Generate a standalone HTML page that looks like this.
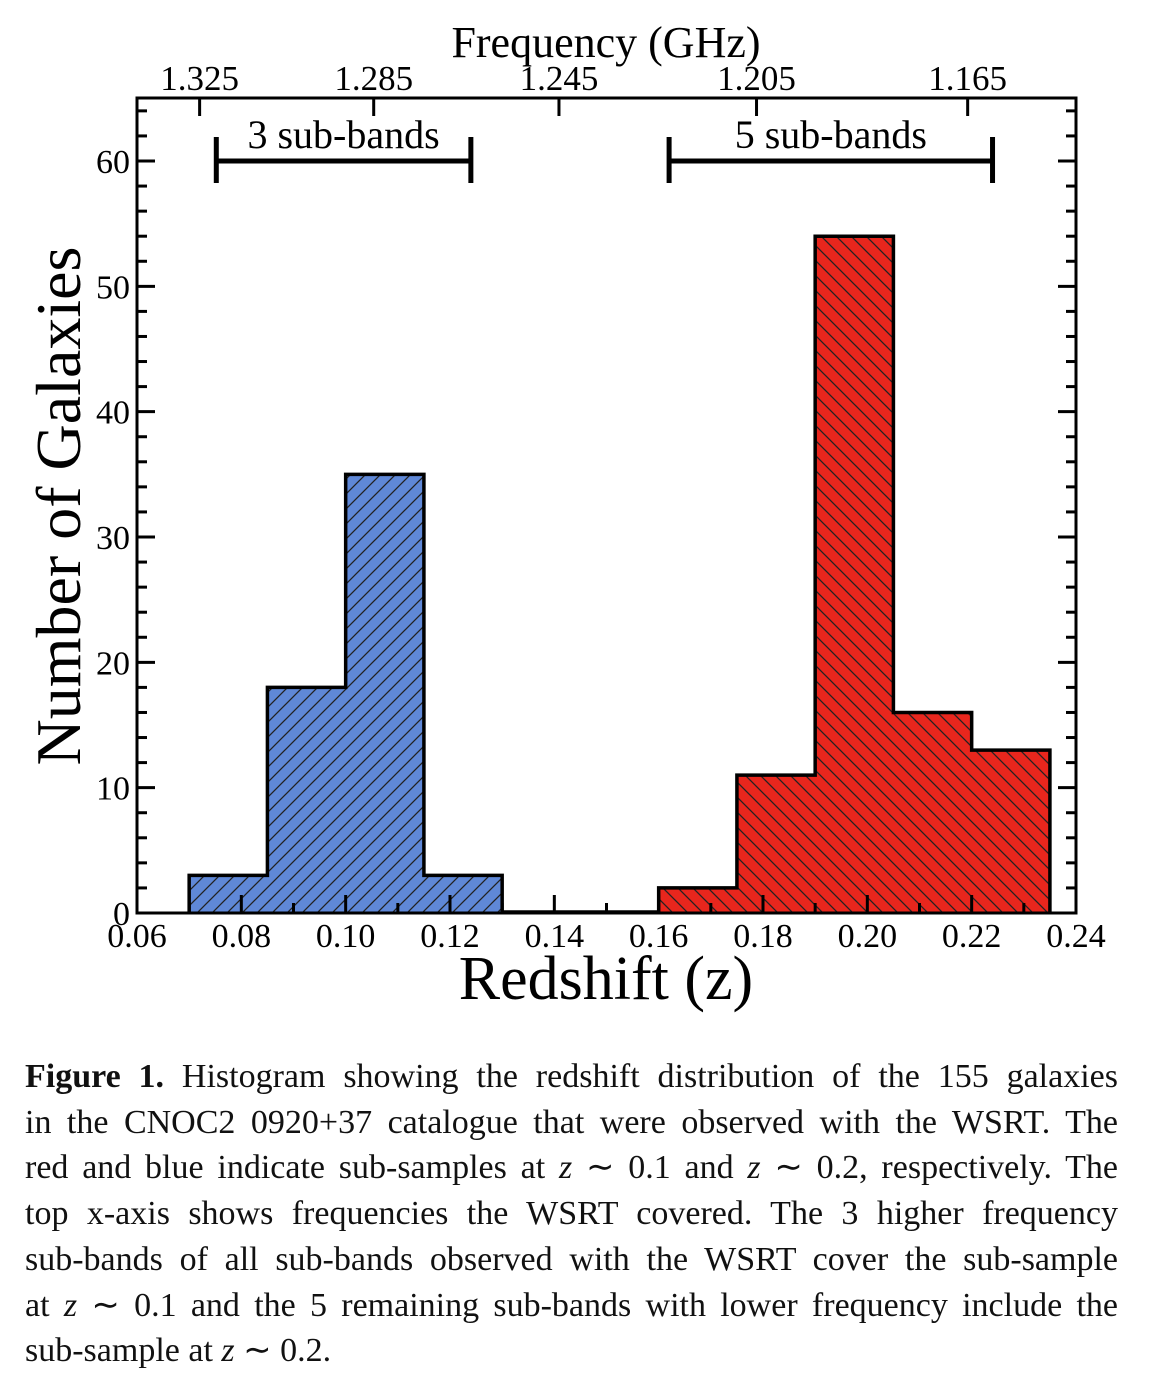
<!DOCTYPE html>
<html><head><meta charset="utf-8"><style>
body{margin:0;background:#fff;width:1158px;height:1388px;overflow:hidden}
svg text{font-family:"Liberation Serif","DejaVu Serif",serif;fill:#000}
.cap{position:absolute;left:25px;top:1054px;width:1093px;font-family:"Liberation Serif",serif;font-size:34px;line-height:45.7px;color:#111}
.cap div{text-align:justify;text-align-last:justify;white-space:nowrap}
.cap div.last{text-align-last:left}
</style></head><body>
<svg width="1158" height="1020" style="position:absolute;left:0;top:0">
<defs>
<pattern id="hb" patternUnits="userSpaceOnUse" width="15" height="15"><rect width="15" height="15" fill="#5f88d7"/><path d="M-2,17 L17,-2 M-2,2 L2,-2 M13,17 L17,13" stroke="#222" stroke-width="1.3"/></pattern>
<pattern id="hr" patternUnits="userSpaceOnUse" width="15" height="15"><rect width="15" height="15" fill="#e8261d"/><path d="M-2,-2 L17,17 M-2,13 L2,17 M13,-2 L17,2" stroke="#222" stroke-width="1.3"/></pattern>
</defs>
<g id="g"></g>
</svg>
<div class="cap">
<div><b>Figure 1.</b> Histogram showing the redshift distribution of the 155 galaxies</div>
<div>in the CNOC2 0920+37 catalogue that were observed with the WSRT. The</div>
<div>red and blue indicate sub-samples at <i>z</i> ∼ 0.1 and <i>z</i> ∼ 0.2, respectively. The</div>
<div>top x-axis shows frequencies the WSRT covered. The 3 higher frequency</div>
<div>sub-bands of all sub-bands observed with the WSRT cover the sub-sample</div>
<div>at <i>z</i> ∼ 0.1 and the 5 remaining sub-bands with lower frequency include the</div>
<div class="last">sub-sample at <i>z</i> ∼ 0.2.</div>
</div>
<script>
const blueEdges=[0.07,0.085,0.10,0.115,0.13];
const blueCounts=[3,18,35,3];
const redEdges=[0.16,0.175,0.19,0.205,0.22,0.235];
const redCounts=[2,11,54,16,13];
const xTicks=[0.06,0.08,0.10,0.12,0.14,0.16,0.18,0.20,0.22,0.24];
const yTicks=[0,10,20,30,40,50,60];
const freqTicks=[1.325,1.285,1.245,1.205,1.165];
const band3=[0.0752,0.124];
const band5=[0.162,0.224];
const L=137,R=1076,T=98,B=913;
const X=z=>L+(z-0.06)/(0.18)*(R-L);
const Y=v=>B-v/60*(B-161);
const F=f=>X(1.42040575/f-1);
const g=document.getElementById('g');const NS='http://www.w3.org/2000/svg';
function mk(t,a,txt){const e=document.createElementNS(NS,t);for(const k in a)e.setAttribute(k,a[k]);if(txt!==undefined)e.textContent=txt;g.appendChild(e);return e;}
function hist(edges,counts,fill,name){
 let d='M'+X(edges[0])+','+B;
 counts.forEach((c,i)=>{d+=' L'+X(edges[i])+','+Y(c)+' L'+X(edges[i+1])+','+Y(c);});
 d+=' L'+X(edges[edges.length-1])+','+B;
 const p=mk('path',{d:d,fill:fill,stroke:'#000','stroke-width':3.5});
 
 
}
hist(blueEdges,blueCounts,'url(#hb)','blue-histogram');
hist(redEdges,redCounts,'url(#hr)','red-histogram');
mk('line',{x1:X(0.13),x2:X(0.16),y1:B-1,y2:B-1,stroke:'#000','stroke-width':3.5});
const fr=mk('rect',{x:L,y:T,width:R-L,height:B-T,fill:'none',stroke:'#000','stroke-width':3});


for(let z=0.06;z<=0.2401;z+=0.01){const maj=Math.round(z*100)%2===0;mk('line',{x1:X(z),x2:X(z),y1:B,y2:B-(maj?18:10),stroke:'#000','stroke-width':3});}
xTicks.forEach(v=>{const t=mk('text',{x:X(v),y:947,'font-size':34,'text-anchor':'middle'},v.toFixed(2));});
for(let v=0;v<=64;v+=2){const maj=v%10===0;mk('line',{x1:L,x2:L+(maj?18:10),y1:Y(v),y2:Y(v),stroke:'#000','stroke-width':3});mk('line',{x1:R,x2:R-(maj?18:10),y1:Y(v),y2:Y(v),stroke:'#000','stroke-width':3});}
yTicks.forEach(v=>{const t=mk('text',{x:130,y:Y(v)+12,'font-size':34,'text-anchor':'end'},v);});
freqTicks.forEach(f=>{mk('line',{x1:F(f),x2:F(f),y1:T,y2:T+18,stroke:'#000','stroke-width':3});const t=mk('text',{x:F(f),y:90,'font-size':35,'text-anchor':'middle'},f.toFixed(3));});
[[band3,'3 sub-bands','three-sub-bands-bracket'],[band5,'5 sub-bands','five-sub-bands-bracket']].forEach(([b,lab,n])=>{
 const x1=X(b[0]),x2=X(b[1]);
 const p=mk('path',{d:`M${x1},${Y(60)} L${x2},${Y(60)} M${x1},137 L${x1},183 M${x2},137 L${x2},183`,stroke:'#000','stroke-width':5,fill:'none'});
 
 
 mk('text',{x:(x1+x2)/2,y:148,'font-size':40,'text-anchor':'middle'},lab);
});
let t=mk('text',{x:606,y:57,'font-size':44,'text-anchor':'middle'},'Frequency (GHz)');

t=mk('text',{x:606,y:999,'font-size':62,'text-anchor':'middle'},'Redshift (z)');

t=mk('text',{x:80,y:506,'font-size':64,'text-anchor':'middle',transform:'rotate(-90 80 506)'},'Number of Galaxies');

</script>
</body></html>
